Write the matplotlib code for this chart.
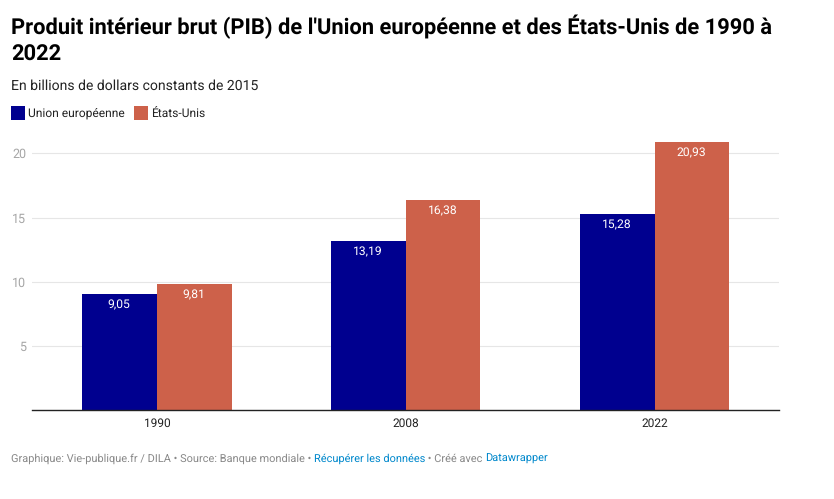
import matplotlib
matplotlib.use("Agg")
import matplotlib.pyplot as plt
import numpy as np
from matplotlib.patches import Rectangle

W, H = 834, 499

years = ["1990", "2008", "2022"]
ue = [9.05, 13.19, 15.28]
usa = [9.81, 16.38, 20.93]
yticks = [5, 10, 15, 20]

BLUE = "#00008f"
RED = "#cd614a"
GRID = "#e6e6e6"
GREY = "#888888"
LINK = "#0088cc"

plt.rcParams["font.family"] = ["Roboto", "DejaVu Sans"]
plt.rcParams["text.hinting"] = "no_hinting"


def fx(px):
    return px / W


def fy(py):
    return 1 - py / H


def fmt(v):
    return f"{v:.2f}".replace(".", ",")


fig = plt.figure(figsize=(W / 100, H / 100), dpi=100)
ax = fig.add_axes([fx(32), fy(410), (779 - 32) / W, (410 - 130) / H])

x = np.arange(len(years))
w = 0.3
b1 = ax.bar(x - w / 2, ue, w, color=BLUE, zorder=2)
b2 = ax.bar(x + w / 2, usa, w, color=RED, zorder=2)

# valeurs dans les barres
for bars, vals in ((b1, ue), (b2, usa)):
    for bar, v in zip(bars, vals):
        ax.annotate(fmt(v), (bar.get_x() + bar.get_width() / 2, v),
                    xytext=(-0.5, -3.8), textcoords="offset points",
                    ha="center", va="top", color="white", fontsize=8.7, zorder=3)

ax.set_xlim(-0.503, 2.5)
ax.set_ylim(0, 21.83)
ax.set_xticks(x, years)
ax.set_yticks(yticks)
ax.grid(axis="y", color=GRID, linewidth=0.8, zorder=0)
ax.set_axisbelow(True)
ax.tick_params(axis="x", length=0, pad=6, labelsize=8.6, labelcolor="#222222")
ax.tick_params(axis="y", length=0, pad=4, labelsize=9, labelcolor="#a6a6a6")
for s in ("top", "left", "right"):
    ax.spines[s].set_visible(False)
ax.spines["bottom"].set_color("#222222")
ax.spines["bottom"].set_linewidth(1)

# titre et sous-titre
fig.text(fx(11), fy(34.5), "Produit intérieur brut (PIB) de l'Union européenne et des États-Unis de 1990 à",
         fontsize=15.78, fontweight="bold", color="#000000", va="baseline")
fig.text(fx(11), fy(61), "2022", fontsize=15.78, fontweight="bold", color="#000000", va="baseline")
fig.text(fx(11), fy(90), "En billions de dollars constants de 2015", fontsize=10.07, color="#222222", va="baseline")

# legende
for px, col, name in ((11, BLUE, "Union européenne"), (134, RED, "États-Unis")):
    fig.add_artist(Rectangle((fx(px), fy(120)), 14 / W, 14 / H, color=col, transform=fig.transFigure, lw=0))
    fig.text(fx(px + 17), fy(116.8), name, fontsize=8.62, color="#222222", va="baseline")

# pied de page, morceaux de couleurs differentes
footer = [
    ("Graphique: Vie-publique.fr / DILA • Source: Banque mondiale • ", GREY),
    ("Récupérer les données", LINK),
    (" • Créé avec ", GREY),
    ("Datawrapper", LINK),
]
renderer = fig.canvas.get_renderer()
cur = 11
for txt, col in footer:
    t = fig.text(fx(cur), fy(461.9), txt.replace(" ", "\u00a0"), fontsize=7.9, color=col, va="baseline")
    cur = t.get_window_extent(renderer).x1

fig.savefig("out.png", dpi=100)
